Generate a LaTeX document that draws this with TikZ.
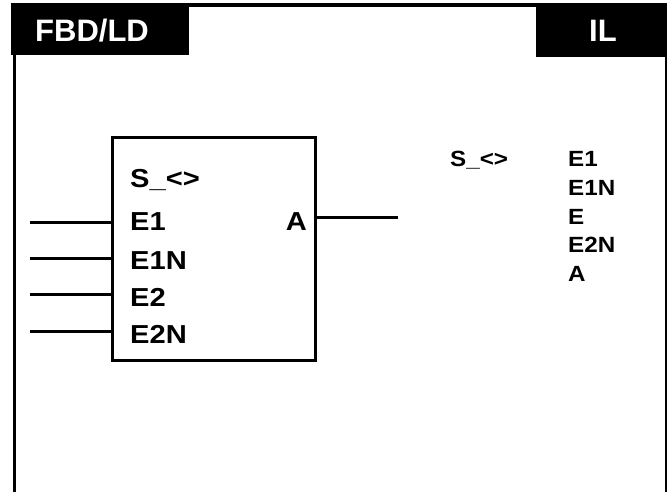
\documentclass[tikz,border=0pt]{standalone}
\usepackage{fontspec}
\setmainfont{Liberation Sans}
\newfontfamily\pinfont[FakeStretch=1.12]{Liberation Sans}
\newfontfamily\ilfont[FakeStretch=1.1]{Liberation Sans}
\usepackage{tikz}
\usetikzlibrary{positioning,calc}

\begin{document}
\begin{tikzpicture}[
    x=1pt, y=-1pt,
    font=\bfseries,
    tablabel/.style={text=white, font=\fontsize{31}{33}\selectfont\bfseries, inner sep=0pt},
    pinlabel/.style={font=\pinfont\fontsize{26}{28}\selectfont\bfseries, inner sep=0pt, anchor=base west},
    illabel/.style={font=\ilfont\fontsize{22}{24}\selectfont\bfseries, inner sep=0pt, anchor=base west},
    wire/.style={line width=3pt}
    ]
    \useasboundingbox (0,0) rectangle (667,492);

    % header tabs and frame
    \fill[black] (11,3) rectangle (189,55);
    \fill[black] (536,3) rectangle (667,57);
    \draw[line width=4pt] (189,5) -- (536,5);
    \draw[line width=3pt] (14.5,55) -- (14.5,492);
    \draw[line width=2.5pt] (665.8,57) -- (665.8,492);
    \node[tablabel, anchor=base west] (fbd) at (35,42) {FBD/LD};
    \node[tablabel, anchor=base west] (il) at (589,42) {IL};

    % function block
    \node[draw, line width=3pt, minimum width=203pt, minimum height=222pt, inner sep=0pt] (blk) at (213.5,249) {};
    \node[pinlabel] (s) at (130,188) {S\_<>};
    \node[pinlabel] (e1) at (130,230) {E1};
    \node[pinlabel] (e1n) at (130,269) {E1N};
    \node[pinlabel] (e2) at (130,306) {E2};
    \node[pinlabel] (e2n) at (130,343) {E2N};
    \node[pinlabel, anchor=base east] (a) at (307,230) {A};

    \coordinate (in1) at (30,222);
    \coordinate (in2) at (30,258);
    \coordinate (in3) at (30,294);
    \coordinate (in4) at (30,331);
    \coordinate (out) at (398,217);
    \foreach \i in {in1,in2,in3,in4}
        \draw[wire] (\i) -- (\i -| blk.west);
    \draw[wire] (out -| blk.east) -- (out);

    % IL listing
    \node[illabel] (ils) at (450,167) {S\_<>};
    \node[illabel] (ile1) at (568,167) {E1};
    \node[illabel] (ile1n) at (568,196) {E1N};
    \node[illabel] (ile) at (568,224) {E};
    \node[illabel] (ile2n) at (568,252) {E2N};
    \node[illabel] (ila) at (568,281) {A};
\end{tikzpicture}
\end{document}
